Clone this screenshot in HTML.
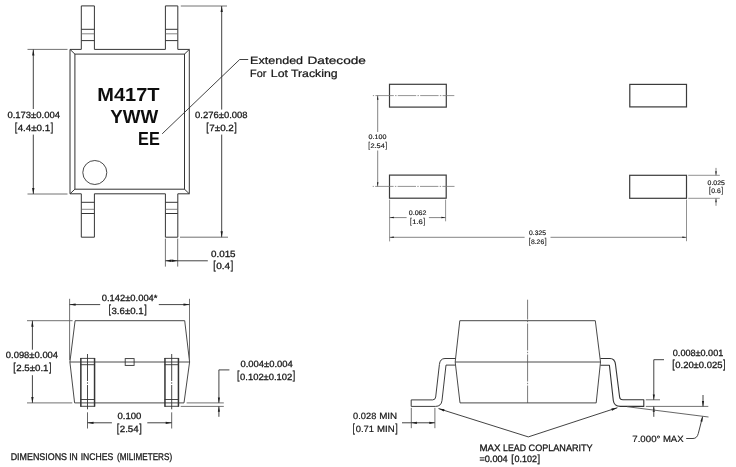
<!DOCTYPE html>
<html lang="en">
<head>
<meta charset="utf-8">
<title>Package dimensions</title>
<style>
html,body{margin:0;padding:0;background:#fff;}
body{width:736px;height:467px;overflow:hidden;}
svg{display:block;text-rendering:geometricPrecision;font-family:"Liberation Sans","DejaVu Sans",sans-serif;}
</style>
</head>
<body>
<svg width="736" height="467" viewBox="0 0 736 467">
<defs><filter id="nf" x="0" y="0" width="736" height="467" filterUnits="userSpaceOnUse"><feGaussianBlur stdDeviation="0.32"/></filter></defs>
<rect x="0" y="0" width="736" height="467" fill="#ffffff"/>
<g filter="url(#nf)">
<path d="M81.3 49.4H70.0V193.8H81.3M94.4 193.8H165.4M177.8 193.8H189.3V49.4H177.8M165.4 49.4H94.4" stroke="#343434" stroke-width="1.0" fill="none" stroke-linejoin="round"/>
<rect x="74.9" y="54.1" width="109.6" height="135.1" stroke="#343434" stroke-width="1.0" fill="none"/>
<line x1="70.0" y1="49.4" x2="74.9" y2="54.1" stroke="#343434" stroke-width="1.0"/>
<line x1="189.3" y1="49.4" x2="184.5" y2="54.1" stroke="#343434" stroke-width="1.0"/>
<line x1="70.0" y1="193.8" x2="74.9" y2="189.2" stroke="#343434" stroke-width="1.0"/>
<line x1="189.3" y1="193.8" x2="184.5" y2="189.2" stroke="#343434" stroke-width="1.0"/>
<path d="M81.3 49.4V5.9H94.4V49.4" stroke="#343434" stroke-width="1.0" fill="none" stroke-linejoin="round"/>
<line x1="81.3" y1="29.3" x2="94.4" y2="29.3" stroke="#343434" stroke-width="1.0"/>
<line x1="81.3" y1="33.8" x2="94.4" y2="33.8" stroke="#666" stroke-width="0.8"/>
<line x1="81.3" y1="40.6" x2="94.4" y2="40.6" stroke="#343434" stroke-width="1.0"/>
<path d="M81.3 193.8V237.2H94.4V193.8" stroke="#343434" stroke-width="1.0" fill="none" stroke-linejoin="round"/>
<line x1="81.3" y1="202.3" x2="94.4" y2="202.3" stroke="#343434" stroke-width="1.0"/>
<line x1="81.3" y1="209.3" x2="94.4" y2="209.3" stroke="#666" stroke-width="0.8"/>
<line x1="81.3" y1="213.5" x2="94.4" y2="213.5" stroke="#343434" stroke-width="1.0"/>
<path d="M165.4 49.4V5.9H177.8V49.4" stroke="#343434" stroke-width="1.0" fill="none" stroke-linejoin="round"/>
<line x1="165.4" y1="29.3" x2="177.8" y2="29.3" stroke="#343434" stroke-width="1.0"/>
<line x1="165.4" y1="33.8" x2="177.8" y2="33.8" stroke="#666" stroke-width="0.8"/>
<line x1="165.4" y1="40.6" x2="177.8" y2="40.6" stroke="#343434" stroke-width="1.0"/>
<path d="M165.4 193.8V237.2H177.8V193.8" stroke="#343434" stroke-width="1.0" fill="none" stroke-linejoin="round"/>
<line x1="165.4" y1="202.3" x2="177.8" y2="202.3" stroke="#343434" stroke-width="1.0"/>
<line x1="165.4" y1="209.3" x2="177.8" y2="209.3" stroke="#666" stroke-width="0.8"/>
<line x1="165.4" y1="213.5" x2="177.8" y2="213.5" stroke="#343434" stroke-width="1.0"/>
<circle cx="94.8" cy="172.5" r="12.0" stroke="#343434" stroke-width="0.9" fill="none"/>
<text font-size="18.9" font-weight="bold" fill="#111" stroke="#111" stroke-width="0.0"><tspan x="97.3" y="100.9" textLength="62.3" lengthAdjust="spacingAndGlyphs">M417T</tspan></text>
<text font-size="18.9" font-weight="bold" fill="#111" stroke="#111" stroke-width="0.0"><tspan x="110.2" y="122.7" textLength="48.0" lengthAdjust="spacingAndGlyphs">YWW</tspan></text>
<text font-size="18.9" font-weight="bold" fill="#111" stroke="#111" stroke-width="0.0"><tspan x="138.1" y="145.1" textLength="21.7" lengthAdjust="spacingAndGlyphs">EE</tspan></text>
<path d="M162.2 133.8L239.7 59.5H248.2" stroke="#2e2e2e" stroke-width="0.9" fill="none" stroke-linejoin="round"/>
<text font-size="10.7" fill="#161616" stroke="#161616" stroke-width="0.22"><tspan x="250.1" y="63.8" textLength="53.0" lengthAdjust="spacingAndGlyphs">Extended</tspan> <tspan x="307.5" y="63.8" textLength="58.4" lengthAdjust="spacingAndGlyphs">Datecode</tspan></text>
<text font-size="10.7" fill="#161616" stroke="#161616" stroke-width="0.22"><tspan x="250.1" y="77.1" textLength="16.3" lengthAdjust="spacingAndGlyphs">For</tspan> <tspan x="270.8" y="77.1" textLength="17.1" lengthAdjust="spacingAndGlyphs">Lot</tspan> <tspan x="290.9" y="77.1" textLength="46.7" lengthAdjust="spacingAndGlyphs">Tracking</tspan></text>
<line x1="27.5" y1="49.4" x2="67.5" y2="49.4" stroke="#626262" stroke-width="0.9"/>
<line x1="27.5" y1="194.0" x2="67.5" y2="194.0" stroke="#626262" stroke-width="0.9"/>
<line x1="33.3" y1="49.4" x2="33.3" y2="109.0" stroke="#2e2e2e" stroke-width="0.9"/>
<line x1="33.3" y1="134.6" x2="33.3" y2="194.0" stroke="#2e2e2e" stroke-width="0.9"/>
<polygon points="33.30,49.40 34.45,55.40 32.15,55.40" fill="#1c1c1c"/>
<polygon points="33.30,194.00 32.15,188.00 34.45,188.00" fill="#1c1c1c"/>
<text font-size="9.0" fill="#161616" stroke="#161616" stroke-width="0.27"><tspan x="7.4" y="118.4" textLength="52.6" lengthAdjust="spacingAndGlyphs">0.173±0.004</tspan></text>
<text font-size="9.0" fill="#161616" stroke="#161616" stroke-width="0.27"><tspan x="14.66" y="130.91" font-size="11.7" textLength="2.51" lengthAdjust="spacingAndGlyphs">[</tspan><tspan x="17.68" y="131.0" textLength="32.54" lengthAdjust="spacingAndGlyphs">4.4±0.1</tspan><tspan x="50.73" y="130.91" font-size="11.7" textLength="2.51" lengthAdjust="spacingAndGlyphs">]</tspan></text>
<line x1="180.8" y1="6.0" x2="227.0" y2="6.0" stroke="#626262" stroke-width="0.9"/>
<line x1="180.0" y1="237.2" x2="228.0" y2="237.2" stroke="#626262" stroke-width="0.9"/>
<line x1="221.7" y1="6.0" x2="221.7" y2="109.6" stroke="#2e2e2e" stroke-width="0.9"/>
<line x1="221.7" y1="134.6" x2="221.7" y2="237.2" stroke="#2e2e2e" stroke-width="0.9"/>
<polygon points="221.70,6.00 222.85,12.00 220.55,12.00" fill="#1c1c1c"/>
<polygon points="221.70,237.20 220.55,231.20 222.85,231.20" fill="#1c1c1c"/>
<text font-size="9.0" fill="#161616" stroke="#161616" stroke-width="0.27"><tspan x="195.1" y="118.1" textLength="52.4" lengthAdjust="spacingAndGlyphs">0.276±0.008</tspan></text>
<text font-size="9.0" fill="#161616" stroke="#161616" stroke-width="0.27"><tspan x="206.26" y="130.51" font-size="11.7" textLength="2.51" lengthAdjust="spacingAndGlyphs">[</tspan><tspan x="209.28" y="130.6" textLength="24.54" lengthAdjust="spacingAndGlyphs">7±0.2</tspan><tspan x="234.33" y="130.51" font-size="11.7" textLength="2.51" lengthAdjust="spacingAndGlyphs">]</tspan></text>
<line x1="165.4" y1="238.6" x2="165.4" y2="266.6" stroke="#626262" stroke-width="0.9"/>
<line x1="177.7" y1="238.6" x2="177.7" y2="266.6" stroke="#626262" stroke-width="0.9"/>
<line x1="165.4" y1="260.8" x2="207.8" y2="260.8" stroke="#2e2e2e" stroke-width="0.9"/>
<polygon points="165.40,260.80 171.40,259.50 171.40,262.10" fill="#1c1c1c"/>
<polygon points="177.70,260.80 171.70,262.10 171.70,259.50" fill="#1c1c1c"/>
<text font-size="9.0" fill="#161616" stroke="#161616" stroke-width="0.27"><tspan x="211.0" y="257.4" textLength="24.6" lengthAdjust="spacingAndGlyphs">0.015</tspan></text>
<text font-size="9.0" fill="#161616" stroke="#161616" stroke-width="0.27"><tspan x="213.26" y="269.21" font-size="11.7" textLength="2.51" lengthAdjust="spacingAndGlyphs">[</tspan><tspan x="216.28" y="269.3" textLength="13.94" lengthAdjust="spacingAndGlyphs">0.4</tspan><tspan x="230.73" y="269.21" font-size="11.7" textLength="2.51" lengthAdjust="spacingAndGlyphs">]</tspan></text>
<rect x="389.5" y="84.3" width="56.8" height="22.8" stroke="#3a3a3a" stroke-width="1.2" fill="none"/>
<rect x="629.8" y="84.4" width="56.7" height="22.5" stroke="#3a3a3a" stroke-width="1.2" fill="none"/>
<rect x="389.5" y="175.1" width="56.7" height="23.1" stroke="#3a3a3a" stroke-width="1.2" fill="none"/>
<rect x="629.7" y="175.3" width="56.8" height="23.0" stroke="#3a3a3a" stroke-width="1.2" fill="none"/>
<line x1="372.9" y1="95.6" x2="454.3" y2="95.6" stroke="#777" stroke-width="0.8" stroke-dasharray="18.4 1.3 1.4 1.3" stroke-dashoffset="19.9"/>
<line x1="372.7" y1="186.4" x2="454.5" y2="186.4" stroke="#777" stroke-width="0.8" stroke-dasharray="18.4 1.3 1.4 1.3" stroke-dashoffset="19.9"/>
<line x1="377.7" y1="95.6" x2="377.7" y2="132.0" stroke="#666" stroke-width="0.8"/>
<line x1="377.7" y1="150.5" x2="377.7" y2="186.4" stroke="#666" stroke-width="0.8"/>
<polygon points="377.70,95.60 378.45,99.80 376.95,99.80" fill="#1c1c1c"/>
<polygon points="377.70,186.40 376.95,182.20 378.45,182.20" fill="#1c1c1c"/>
<text font-size="6.6" fill="#161616" stroke="#161616" stroke-width="0.16"><tspan x="368.6" y="138.5" textLength="17.8" lengthAdjust="spacingAndGlyphs">0.100</tspan></text>
<text font-size="6.6" fill="#161616" stroke="#161616" stroke-width="0.16"><tspan x="368.13" y="148.23" font-size="8.58" textLength="1.84" lengthAdjust="spacingAndGlyphs">[</tspan><tspan x="370.41" y="148.3" textLength="14.38" lengthAdjust="spacingAndGlyphs">2.54</tspan><tspan x="385.23" y="148.23" font-size="8.58" textLength="1.84" lengthAdjust="spacingAndGlyphs">]</tspan></text>
<line x1="389.6" y1="199.6" x2="389.6" y2="241.4" stroke="#757575" stroke-width="0.8"/>
<line x1="445.6" y1="199.6" x2="445.6" y2="221.3" stroke="#757575" stroke-width="0.8"/>
<line x1="389.6" y1="217.6" x2="406.6" y2="217.6" stroke="#666" stroke-width="0.8"/>
<line x1="428.9" y1="217.6" x2="445.6" y2="217.6" stroke="#666" stroke-width="0.8"/>
<polygon points="389.60,217.60 393.80,216.85 393.80,218.35" fill="#1c1c1c"/>
<polygon points="445.60,217.60 441.40,218.35 441.40,216.85" fill="#1c1c1c"/>
<text font-size="6.6" fill="#161616" stroke="#161616" stroke-width="0.16"><tspan x="408.8" y="215.0" textLength="17.7" lengthAdjust="spacingAndGlyphs">0.062</tspan></text>
<text font-size="6.6" fill="#161616" stroke="#161616" stroke-width="0.16"><tspan x="409.93" y="224.13" font-size="8.58" textLength="1.84" lengthAdjust="spacingAndGlyphs">[</tspan><tspan x="412.21" y="224.2" textLength="10.58" lengthAdjust="spacingAndGlyphs">1.6</tspan><tspan x="423.23" y="224.13" font-size="8.58" textLength="1.84" lengthAdjust="spacingAndGlyphs">]</tspan></text>
<line x1="686.5" y1="199.6" x2="686.5" y2="241.2" stroke="#757575" stroke-width="0.8"/>
<line x1="389.6" y1="237.3" x2="524.6" y2="237.3" stroke="#666" stroke-width="0.8"/>
<line x1="550.5" y1="237.3" x2="686.5" y2="237.3" stroke="#666" stroke-width="0.8"/>
<polygon points="389.60,237.30 393.80,236.55 393.80,238.05" fill="#1c1c1c"/>
<polygon points="686.50,237.30 682.30,238.05 682.30,236.55" fill="#1c1c1c"/>
<text font-size="6.6" fill="#161616" stroke="#161616" stroke-width="0.16"><tspan x="529.1" y="235.0" textLength="16.9" lengthAdjust="spacingAndGlyphs">0.325</tspan></text>
<text font-size="6.6" fill="#161616" stroke="#161616" stroke-width="0.16"><tspan x="528.63" y="244.13" font-size="8.58" textLength="1.84" lengthAdjust="spacingAndGlyphs">[</tspan><tspan x="530.91" y="244.2" textLength="13.28" lengthAdjust="spacingAndGlyphs">8.26</tspan><tspan x="544.63" y="244.13" font-size="8.58" textLength="1.84" lengthAdjust="spacingAndGlyphs">]</tspan></text>
<line x1="688.2" y1="175.3" x2="719.8" y2="175.3" stroke="#757575" stroke-width="0.8"/>
<line x1="688.2" y1="198.3" x2="719.8" y2="198.3" stroke="#757575" stroke-width="0.8"/>
<line x1="716.0" y1="167.9" x2="716.0" y2="175.3" stroke="#666" stroke-width="0.8"/>
<line x1="716.0" y1="198.3" x2="716.0" y2="205.8" stroke="#666" stroke-width="0.8"/>
<polygon points="716.00,175.30 715.25,171.30 716.75,171.30" fill="#1c1c1c"/>
<polygon points="716.00,198.30 716.75,202.30 715.25,202.30" fill="#1c1c1c"/>
<text font-size="6.6" fill="#161616" stroke="#161616" stroke-width="0.16"><tspan x="707.6" y="184.6" textLength="17.3" lengthAdjust="spacingAndGlyphs">0.025</tspan></text>
<text font-size="6.6" fill="#161616" stroke="#161616" stroke-width="0.16"><tspan x="708.93" y="193.13" font-size="8.58" textLength="1.84" lengthAdjust="spacingAndGlyphs">[</tspan><tspan x="711.21" y="193.2" textLength="9.48" lengthAdjust="spacingAndGlyphs">0.6</tspan><tspan x="721.13" y="193.13" font-size="8.58" textLength="1.84" lengthAdjust="spacingAndGlyphs">]</tspan></text>
<path d="M75.1 320.7H184.7L189.6 362.0L184.0 402.9H74.6L69.9 362.0Z" stroke="#343434" stroke-width="0.9" fill="none" stroke-linejoin="round"/>
<line x1="69.9" y1="362.0" x2="189.6" y2="362.0" stroke="#343434" stroke-width="0.9"/>
<line x1="80.85" y1="358.0" x2="80.85" y2="406.7" stroke="#343434" stroke-width="1.5"/>
<line x1="94.55000000000001" y1="358.0" x2="94.55000000000001" y2="406.7" stroke="#343434" stroke-width="1.5"/>
<line x1="80.5" y1="358.4" x2="94.9" y2="358.4" stroke="#343434" stroke-width="0.9"/>
<line x1="80.5" y1="364.7" x2="94.9" y2="364.7" stroke="#343434" stroke-width="0.9"/>
<line x1="80.5" y1="399.5" x2="94.9" y2="399.5" stroke="#343434" stroke-width="0.9"/>
<line x1="80.5" y1="406.3" x2="94.9" y2="406.3" stroke="#343434" stroke-width="0.9"/>
<line x1="87.5" y1="354.0" x2="87.5" y2="409.3" stroke="#333" stroke-width="0.9" stroke-dasharray="27 1.3 1.4 1.3" stroke-dashoffset="0"/>
<line x1="87.5" y1="412.3" x2="87.5" y2="428.5" stroke="#555" stroke-width="0.9"/>
<line x1="164.95" y1="358.0" x2="164.95" y2="406.7" stroke="#343434" stroke-width="1.5"/>
<line x1="178.45000000000002" y1="358.0" x2="178.45000000000002" y2="406.7" stroke="#343434" stroke-width="1.5"/>
<line x1="164.6" y1="358.4" x2="178.8" y2="358.4" stroke="#343434" stroke-width="0.9"/>
<line x1="164.6" y1="364.7" x2="178.8" y2="364.7" stroke="#343434" stroke-width="0.9"/>
<line x1="164.6" y1="399.5" x2="178.8" y2="399.5" stroke="#343434" stroke-width="0.9"/>
<line x1="164.6" y1="406.3" x2="178.8" y2="406.3" stroke="#343434" stroke-width="0.9"/>
<line x1="171.7" y1="354.0" x2="171.7" y2="409.3" stroke="#333" stroke-width="0.9" stroke-dasharray="27 1.3 1.4 1.3" stroke-dashoffset="0"/>
<line x1="171.7" y1="412.3" x2="171.7" y2="428.5" stroke="#555" stroke-width="0.9"/>
<rect x="125.2" y="358.6" width="8.9" height="6.8" stroke="#343434" stroke-width="0.9" fill="none"/>
<line x1="69.6" y1="298.8" x2="69.6" y2="360.0" stroke="#626262" stroke-width="0.9"/>
<line x1="189.5" y1="298.8" x2="189.5" y2="360.0" stroke="#626262" stroke-width="0.9"/>
<line x1="69.6" y1="304.6" x2="100.2" y2="304.6" stroke="#2e2e2e" stroke-width="0.9"/>
<line x1="158.8" y1="304.6" x2="189.5" y2="304.6" stroke="#2e2e2e" stroke-width="0.9"/>
<polygon points="69.60,304.60 75.60,303.45 75.60,305.75" fill="#1c1c1c"/>
<polygon points="189.50,304.60 183.50,305.75 183.50,303.45" fill="#1c1c1c"/>
<text font-size="9.0" fill="#161616" stroke="#161616" stroke-width="0.27"><tspan x="101.7" y="300.8" textLength="55.8" lengthAdjust="spacingAndGlyphs">0.142±0.004*</tspan></text>
<text font-size="9.0" fill="#161616" stroke="#161616" stroke-width="0.27"><tspan x="108.46" y="313.41" font-size="11.7" textLength="2.51" lengthAdjust="spacingAndGlyphs">[</tspan><tspan x="111.48" y="313.5" textLength="32.14" lengthAdjust="spacingAndGlyphs">3.6±0.1</tspan><tspan x="144.13" y="313.41" font-size="11.7" textLength="2.51" lengthAdjust="spacingAndGlyphs">]</tspan></text>
<line x1="27.0" y1="320.7" x2="72.6" y2="320.7" stroke="#626262" stroke-width="0.9"/>
<line x1="27.0" y1="402.9" x2="72.3" y2="402.9" stroke="#626262" stroke-width="0.9"/>
<line x1="32.4" y1="320.7" x2="32.4" y2="349.7" stroke="#2e2e2e" stroke-width="0.9"/>
<line x1="32.4" y1="375.2" x2="32.4" y2="402.9" stroke="#2e2e2e" stroke-width="0.9"/>
<polygon points="32.40,320.70 33.55,326.70 31.25,326.70" fill="#1c1c1c"/>
<polygon points="32.40,402.90 31.25,396.90 33.55,396.90" fill="#1c1c1c"/>
<text font-size="9.0" fill="#161616" stroke="#161616" stroke-width="0.27"><tspan x="5.8" y="358.4" textLength="52.3" lengthAdjust="spacingAndGlyphs">0.098±0.004</tspan></text>
<text font-size="9.0" fill="#161616" stroke="#161616" stroke-width="0.27"><tspan x="13.26" y="370.81" font-size="11.7" textLength="2.51" lengthAdjust="spacingAndGlyphs">[</tspan><tspan x="16.28" y="370.9" textLength="32.24" lengthAdjust="spacingAndGlyphs">2.5±0.1</tspan><tspan x="49.03" y="370.81" font-size="11.7" textLength="2.51" lengthAdjust="spacingAndGlyphs">]</tspan></text>
<line x1="87.5" y1="422.8" x2="111.9" y2="422.8" stroke="#2e2e2e" stroke-width="0.9"/>
<line x1="147.3" y1="422.8" x2="171.7" y2="422.8" stroke="#2e2e2e" stroke-width="0.9"/>
<polygon points="87.50,422.80 93.50,421.65 93.50,423.95" fill="#1c1c1c"/>
<polygon points="171.70,422.80 165.70,423.95 165.70,421.65" fill="#1c1c1c"/>
<text font-size="9.0" fill="#161616" stroke="#161616" stroke-width="0.27"><tspan x="117.5" y="419.0" textLength="23.9" lengthAdjust="spacingAndGlyphs">0.100</tspan></text>
<text font-size="9.0" fill="#161616" stroke="#161616" stroke-width="0.27"><tspan x="116.76" y="431.81" font-size="11.7" textLength="2.51" lengthAdjust="spacingAndGlyphs">[</tspan><tspan x="119.78" y="431.9" textLength="18.94" lengthAdjust="spacingAndGlyphs">2.54</tspan><tspan x="139.23" y="431.81" font-size="11.7" textLength="2.51" lengthAdjust="spacingAndGlyphs">]</tspan></text>
<line x1="186.6" y1="402.9" x2="223.8" y2="402.9" stroke="#626262" stroke-width="0.9"/>
<line x1="180.7" y1="406.4" x2="223.8" y2="406.4" stroke="#626262" stroke-width="0.9"/>
<path d="M229.4 369.9H218.9V402.9" stroke="#2e2e2e" stroke-width="0.9" fill="none" stroke-linejoin="round"/>
<line x1="218.9" y1="406.4" x2="218.9" y2="416.8" stroke="#2e2e2e" stroke-width="0.9"/>
<polygon points="218.90,402.90 217.85,397.50 219.95,397.50" fill="#1c1c1c"/>
<polygon points="218.90,406.40 219.95,411.80 217.85,411.80" fill="#1c1c1c"/>
<text font-size="9.0" fill="#161616" stroke="#161616" stroke-width="0.27"><tspan x="240.5" y="366.7" textLength="52.3" lengthAdjust="spacingAndGlyphs">0.004±0.004</tspan></text>
<text font-size="9.0" fill="#161616" stroke="#161616" stroke-width="0.27"><tspan x="237.06" y="379.41" font-size="11.7" textLength="2.51" lengthAdjust="spacingAndGlyphs">[</tspan><tspan x="240.08" y="379.5" textLength="52.24" lengthAdjust="spacingAndGlyphs">0.102±0.102</tspan><tspan x="292.83" y="379.41" font-size="11.7" textLength="2.51" lengthAdjust="spacingAndGlyphs">]</tspan></text>
<text font-size="9.7" fill="#161616" stroke="#161616" stroke-width="0.28"><tspan x="10.7" y="460.0" textLength="56.3" lengthAdjust="spacingAndGlyphs">DIMENSIONS</tspan> <tspan x="69.2" y="460.0" textLength="8.6" lengthAdjust="spacingAndGlyphs">IN</tspan> <tspan x="80.7" y="460.0" textLength="32.5" lengthAdjust="spacingAndGlyphs">INCHES</tspan> <tspan x="117.0" y="460.0" textLength="55.1" lengthAdjust="spacingAndGlyphs">(MILIMETERS)</tspan></text>
<path d="M459.8 320.7H595.3L600.5 362.0L596.2 402.9H460.0L455.2 362.0Z" stroke="#343434" stroke-width="0.9" fill="none" stroke-linejoin="round"/>
<line x1="455.2" y1="362.0" x2="600.5" y2="362.0" stroke="#343434" stroke-width="0.9"/>
<line x1="527.6" y1="299.7" x2="527.6" y2="403.0" stroke="#555" stroke-width="0.8" stroke-dasharray="27 1.3 1.4 1.3" stroke-dashoffset="7.2"/>
<path d="M455.3 358.5H445.0Q440.0 358.5 439.4 364.5L435.7 397.0Q435.4 399.9 432.5 399.9H411.2V406.4H435.5Q441.3 406.4 442.0 400.5L446.0 365.1H455.3" stroke="#343434" stroke-width="0.95" fill="none" stroke-linejoin="round"/>
<path d="M600.4 358.5H610.0Q614.8 358.5 615.5 364.5L619.6 397.0Q619.9 399.7 622.8 399.7H643.8V406.4H620.5Q614.0 406.4 613.3 400.5L609.4 365.3H600.4" stroke="#333" stroke-width="1.1" fill="none" stroke-linejoin="round"/>
<line x1="411.3" y1="407.8" x2="411.3" y2="428.2" stroke="#626262" stroke-width="0.9"/>
<line x1="434.9" y1="407.8" x2="434.9" y2="428.2" stroke="#626262" stroke-width="0.9"/>
<line x1="402.0" y1="422.8" x2="434.9" y2="422.8" stroke="#2e2e2e" stroke-width="0.9"/>
<polygon points="411.30,422.80 416.90,421.70 416.90,423.90" fill="#1c1c1c"/>
<polygon points="434.90,422.80 429.30,423.90 429.30,421.70" fill="#1c1c1c"/>
<text font-size="9.0" fill="#161616" stroke="#161616" stroke-width="0.2"><tspan x="353.1" y="419.4" textLength="23.2" lengthAdjust="spacingAndGlyphs">0.028</tspan> <tspan x="379.2" y="419.4" textLength="18.0" lengthAdjust="spacingAndGlyphs">MIN</tspan></text>
<text font-size="9.0" fill="#161616" stroke="#161616" stroke-width="0.2"><tspan x="352.56" y="431.51" font-size="11.7" textLength="2.51" lengthAdjust="spacingAndGlyphs">[</tspan><tspan x="355.68" y="431.6" textLength="18.32" lengthAdjust="spacingAndGlyphs">0.71</tspan> <tspan x="377.0" y="431.6" textLength="17.62" lengthAdjust="spacingAndGlyphs">MIN</tspan><tspan x="395.23" y="431.51" font-size="11.7" textLength="2.51" lengthAdjust="spacingAndGlyphs">]</tspan></text>
<line x1="438.5" y1="408.6" x2="528.3" y2="436.9" stroke="#2e2e2e" stroke-width="0.9"/>
<line x1="617.4" y1="407.7" x2="528.3" y2="436.9" stroke="#2e2e2e" stroke-width="0.9"/>
<polygon points="438.50,408.60 444.57,409.31 443.88,411.50" fill="#1c1c1c"/>
<polygon points="617.40,407.70 612.06,410.66 611.34,408.48" fill="#1c1c1c"/>
<text font-size="9.3" fill="#161616" stroke="#161616" stroke-width="0.28"><tspan x="479.4" y="451.0" textLength="21.0" lengthAdjust="spacingAndGlyphs">MAX</tspan> <tspan x="503.1" y="451.0" textLength="22.9" lengthAdjust="spacingAndGlyphs">LEAD</tspan> <tspan x="528.6" y="451.0" textLength="64.0" lengthAdjust="spacingAndGlyphs">COPLANARITY</tspan></text>
<text font-size="9.3" fill="#161616" stroke="#161616" stroke-width="0.28"><tspan x="479.4" y="461.9" textLength="28.3" lengthAdjust="spacingAndGlyphs">=0.004</tspan> <tspan x="511.34" y="462.15" font-size="10.42" textLength="2.6" lengthAdjust="spacingAndGlyphs">[</tspan><tspan x="514.58" y="461.9" textLength="22.35" lengthAdjust="spacingAndGlyphs">0.102</tspan><tspan x="537.57" y="462.15" font-size="10.42" textLength="2.6" lengthAdjust="spacingAndGlyphs">]</tspan></text>
<line x1="645.8" y1="399.8" x2="660.0" y2="399.8" stroke="#626262" stroke-width="0.9"/>
<line x1="645.8" y1="406.4" x2="708.3" y2="406.4" stroke="#626262" stroke-width="0.9"/>
<path d="M664.0 359.7H653.8V399.8" stroke="#2e2e2e" stroke-width="0.9" fill="none" stroke-linejoin="round"/>
<line x1="653.8" y1="406.4" x2="653.8" y2="416.8" stroke="#2e2e2e" stroke-width="0.9"/>
<polygon points="653.80,399.80 652.75,394.40 654.85,394.40" fill="#1c1c1c"/>
<polygon points="653.80,406.40 654.85,411.80 652.75,411.80" fill="#1c1c1c"/>
<text font-size="9.0" fill="#161616" stroke="#161616" stroke-width="0.27"><tspan x="672.8" y="356.3" textLength="50.5" lengthAdjust="spacingAndGlyphs">0.008±0.001</tspan></text>
<text font-size="9.0" fill="#161616" stroke="#161616" stroke-width="0.27"><tspan x="672.26" y="368.31" font-size="11.7" textLength="2.51" lengthAdjust="spacingAndGlyphs">[</tspan><tspan x="675.28" y="368.4" textLength="47.14" lengthAdjust="spacingAndGlyphs">0.20±0.025</tspan><tspan x="722.93" y="368.31" font-size="11.7" textLength="2.51" lengthAdjust="spacingAndGlyphs">]</tspan></text>
<line x1="627.0" y1="406.7" x2="708.5" y2="417.0" stroke="#555" stroke-width="0.9"/>
<line x1="703.0" y1="395.0" x2="703.0" y2="406.4" stroke="#2e2e2e" stroke-width="0.9"/>
<polygon points="703.00,406.40 701.95,401.00 704.05,401.00" fill="#1c1c1c"/>
<path d="M686.2 438.5H693.0Q697.0 438.5 698.3 433.5L702.6 416.6" stroke="#2e2e2e" stroke-width="0.9" fill="none" stroke-linejoin="round"/>
<polygon points="702.70,416.30 702.41,421.79 700.37,421.29" fill="#1c1c1c"/>
<text font-size="9.0" fill="#161616" stroke="#161616" stroke-width="0.2"><tspan x="632.3" y="442.2" textLength="28.1" lengthAdjust="spacingAndGlyphs">7.000°</tspan> <tspan x="662.9" y="442.2" textLength="20.7" lengthAdjust="spacingAndGlyphs">MAX</tspan></text>
</g>
</svg>
</body>
</html>
